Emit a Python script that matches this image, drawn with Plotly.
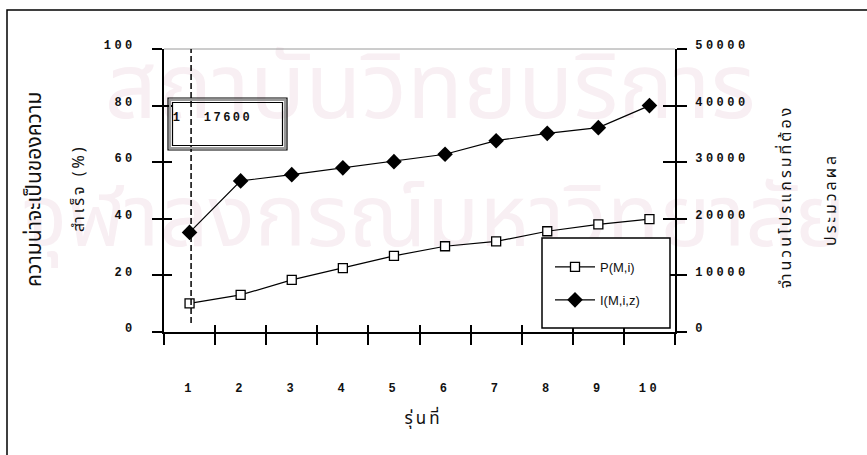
import plotly.graph_objects as go

# ---------------- data ----------------
generations = ["1", "2", "3", "4", "5", "6", "7", "8", "9", "10"]
p_success = [10.1, 13.1, 18.4, 22.6, 26.9, 30.3, 32.0, 35.6, 38.0, 39.9]          # P(M,i) %
i_programs = [17600, 26700, 27800, 29000, 30100, 31400, 33800, 35100, 36100, 40000]  # I(M,i,z)
left_ticks = [0, 20, 40, 60, 80, 100]
right_ticks = [0, 10000, 20000, 30000, 40000, 50000]
marker_gen_label = "1"
marker_value_label = "17600"

# ---------------- geometry helpers (pixel -> paper) ----------------
W, H = 867, 455
L, R, T, B = 164, 675, 49, 332


def px(x):
    return (x - L) / (R - L)


def py(y):
    return (B - y) / (B - T)


TICKFONT = dict(family="Liberation Mono, DejaVu Sans Mono, monospace", size=12, color="#111",
                weight="bold")
THAI = "Noto Sans Thai, Noto Sans Thai Looped, Loma, Garuda, Noto Sans, DejaVu Sans, sans-serif"
TITLEFONT = dict(family=THAI, size=16, color="#111")
TITLEFONT_BIG = dict(family=THAI, size=21, color="#111")

fig = go.Figure()

fig.add_trace(go.Scatter(
    x=generations, y=p_success, name="P(M,i)", mode="lines+markers",
    line=dict(color="black", width=1.2),
    marker=dict(symbol="square", size=9, color="white", line=dict(color="black", width=1.3)),
    legendgroup="a", yaxis="y",
))
fig.add_trace(go.Scatter(
    x=generations, y=i_programs, name="I(M,i,z)", mode="lines+markers",
    line=dict(color="black", width=1.2),
    marker=dict(symbol="diamond", size=12, color="black"),
    legendgroup="b", yaxis="y2",
))
# invisible helper traces so overlay (inside-tick) axes get drawn
fig.add_trace(go.Scatter(x=generations, y=[None] * 10, yaxis="y3", showlegend=False, hoverinfo="skip"))
fig.add_trace(go.Scatter(x=generations, y=[None] * 10, yaxis="y4", showlegend=False, hoverinfo="skip"))
fig.add_trace(go.Scatter(x=generations, y=[None] * 10, xaxis="x2", showlegend=False, hoverinfo="skip"))

axis_common = dict(showgrid=False, zeroline=False, linecolor="black", linewidth=1.6,
                   tickcolor="black", tickwidth=1.6)

fig.update_layout(
    width=W, height=H,
    margin=dict(l=L, r=W - R, t=T, b=H - B, pad=0),
    paper_bgcolor="white", plot_bgcolor="rgba(0,0,0,0)",
    xaxis=dict(type="category", categoryorder="array", categoryarray=generations,
               range=[-0.5, 9.5], tickson="boundaries", ticks="outside", ticklen=11,
               showline=True, tickfont=TICKFONT, ticklabelstandoff=44, **axis_common),
    xaxis2=dict(type="category", categoryorder="array", categoryarray=generations,
                range=[-0.5, 9.5], tickson="boundaries", ticks="inside", ticklen=7,
                showticklabels=False, overlaying="x", anchor="y", showline=False,
                showgrid=False, zeroline=False, tickcolor="black", tickwidth=1.6),
    yaxis=dict(range=[0, 100], tickvals=left_ticks, ticks="outside", ticklen=10,
               showline=True, tickfont=TICKFONT, ticklabelstandoff=14, ticklabelshift=-4,
               automargin=False, **axis_common),
    yaxis3=dict(range=[0, 100], tickvals=left_ticks, ticks="inside", ticklen=8,
                showticklabels=False, overlaying="y", anchor="x", showline=False,
                showgrid=False, zeroline=False, tickcolor="black", tickwidth=1.6),
    yaxis2=dict(range=[0, 50000], tickvals=right_ticks, tickformat="d", ticks="outside",
                ticklen=10, side="right", overlaying="y", anchor="x", showline=True,
                tickfont=TICKFONT, ticklabelstandoff=6, ticklabelshift=-4, **axis_common),
    yaxis4=dict(range=[0, 50000], tickvals=right_ticks, ticks="inside", ticklen=12,
                side="right", overlaying="y", anchor="x", showticklabels=False,
                showline=False, showgrid=False, zeroline=False, tickcolor="black",
                tickwidth=1.6),
    showlegend=True,
    legend=dict(x=px(550), y=py(252), xanchor="left", yanchor="top", itemwidth=40,
                bgcolor="rgba(0,0,0,0)", borderwidth=0, tracegroupgap=13,
                font=dict(family="Liberation Sans, Arial, sans-serif", size=13, color="#111")),
    font=dict(family=THAI),
)

shapes = []
# watermark (behind everything)
wm_color = "#f8eff3"
shapes.append(dict(type="rect", xref="paper", yref="paper", layer="below",
                   x0=px(100), x1=px(760), y0=py(155), y1=py(35),
                   line=dict(width=0), fillcolor="rgba(0,0,0,0)",
                   label=dict(text="สถาบันวิทยบริการ", textposition="middle center",
                              font=dict(family=THAI, size=92, color=wm_color))))
shapes.append(dict(type="rect", xref="paper", yref="paper", layer="below",
                   x0=px(0), x1=px(867), y0=py(285), y1=py(165),
                   line=dict(width=0), fillcolor="rgba(0,0,0,0)",
                   label=dict(text="จุฬาลงกรณ์มหาวิทยาลัย", textposition="middle center",
                              font=dict(family=THAI, size=86, color=wm_color))))
# outer frame
shapes.append(dict(type="rect", xref="paper", yref="paper", x0=px(7), x1=px(880),
                   y0=py(470), y1=py(10), line=dict(color="black", width=1.5)))
# top border of plot area (grey)
shapes.append(dict(type="line", xref="paper", yref="paper", x0=0, x1=1, y0=1, y1=1,
                   line=dict(color="#9a9a9a", width=1)))
# dashed marker line at generation 1
shapes.append(dict(type="line", xref="x", yref="y", x0=0.03, x1=0.03, y0=3.2, y1=100,
                   line=dict(color="black", width=1.5, dash="6px,3px")))
# double-bordered value box
shapes.append(dict(type="rect", xref="paper", yref="paper", x0=px(168), x1=px(287),
                   y0=py(150), y1=py(98), line=dict(color="black", width=1.2)))
shapes.append(dict(type="rect", xref="paper", yref="paper", x0=px(170), x1=px(285),
                   y0=py(148), y1=py(100), line=dict(color="#999", width=2)))
shapes.append(dict(type="rect", xref="paper", yref="paper", x0=px(172.5), x1=px(282.5),
                   y0=py(145.5), y1=py(102.5), line=dict(color="black", width=1.2)))
# legend box
shapes.append(dict(type="rect", xref="paper", yref="paper", x0=px(542), x1=px(670),
                   y0=py(328), y1=py(238), layer="above", fillcolor="white",
                   line=dict(color="black", width=1.5)))
fig.update_layout(shapes=shapes)

ann = []
ann.append(dict(text=marker_gen_label, x=px(177), y=py(118), xref="paper", yref="paper",
                showarrow=False, font=TICKFONT, xanchor="center", yanchor="middle"))
ann.append(dict(text=marker_value_label, x=px(228), y=py(118), xref="paper", yref="paper",
                showarrow=False, font=TICKFONT, xanchor="center", yanchor="middle"))
# axis titles
ann.append(dict(text="รุ่นที่", x=px(423), y=py(419), xref="paper", yref="paper",
                showarrow=False, font=dict(family=THAI, size=17, color="#111"),
                xanchor="center", yanchor="middle"))
# long left title: no letter-spacing applied, larger font instead
ann.append(dict(text="ความน่าจะเป็นของความ", x=px(34), y=py(190), xref="paper", yref="paper",
                showarrow=False, textangle=-90, font=TITLEFONT_BIG,
                xanchor="center", yanchor="middle"))
ann.append(dict(text="สำเร็จ (%)", x=px(79), y=py(188), xref="paper", yref="paper",
                showarrow=False, textangle=-90, font=TITLEFONT,
                xanchor="center", yanchor="middle"))
ann.append(dict(text="จำนวนโปรแกรมที่ต้อง", x=px(786), y=py(197), xref="paper", yref="paper",
                showarrow=False, textangle=-90, font=TITLEFONT,
                xanchor="center", yanchor="middle"))
ann.append(dict(text="ประมวลผล", x=px(831), y=py(200), xref="paper", yref="paper",
                showarrow=False, textangle=-90, font=TITLEFONT,
                xanchor="center", yanchor="middle"))
fig.update_layout(annotations=ann)

POST = """
document.body.style.margin='0';document.body.style.padding='0';
(function(){
  var gd = document.getElementById('{plot_id}');
  function fix(){
    gd.querySelectorAll('.xtick text, .ytick text, .y2tick text').forEach(function(t){
      t.style.letterSpacing='3.5px';});
    gd.querySelectorAll('.annotation-text').forEach(function(t){
      var s = t.textContent;
      if (s.indexOf('\\u0e04\\u0e27\\u0e32\\u0e21\\u0e19') === 0) { return; }
      if (/^[0-9]+$/.test(s)) { t.style.letterSpacing='2.5px'; }
      else { t.style.letterSpacing='3px'; }
    });
  }
  fix();
  setTimeout(fix, 50);
  setTimeout(fix, 300);
  if (gd.on) { gd.on('plotly_afterplot', fix); }
})();
"""

fig.write_html("out.html", config={"displayModeBar": False}, post_script=POST)
